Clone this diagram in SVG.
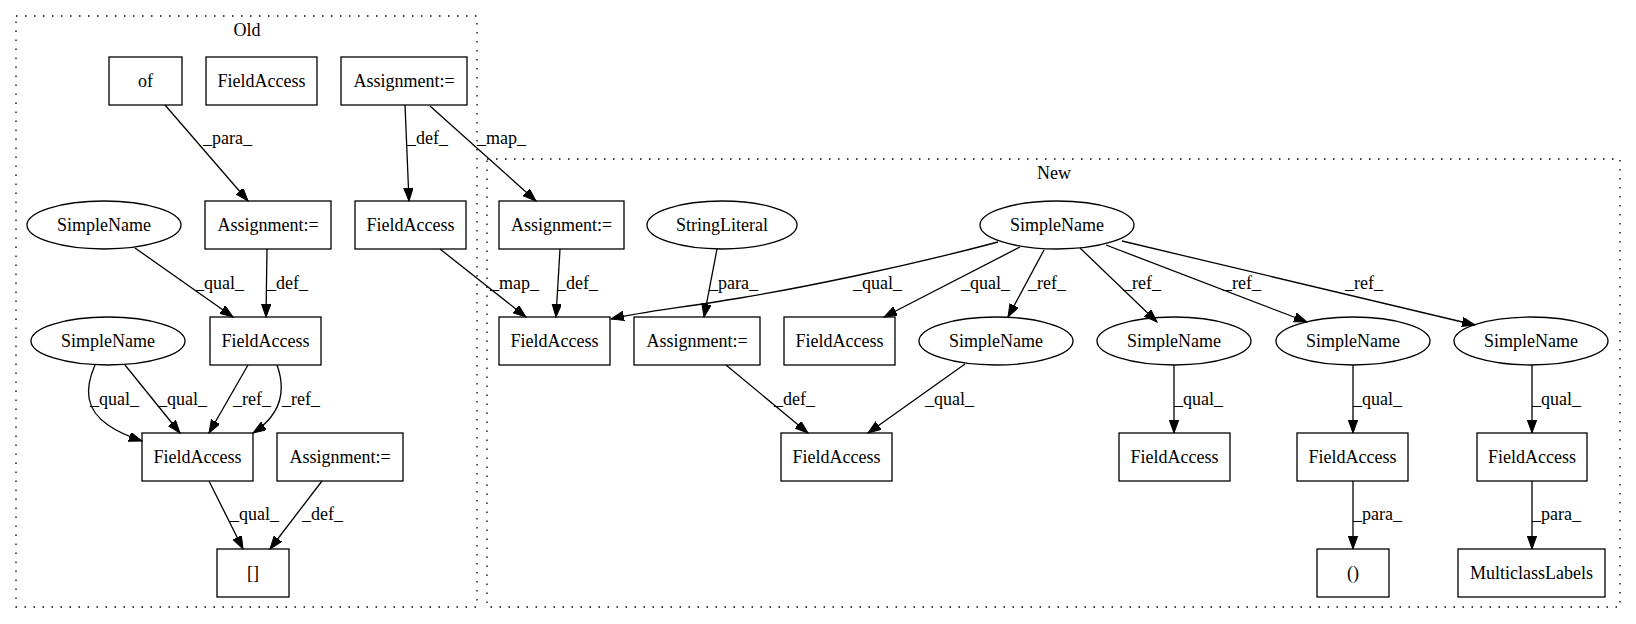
<svg xmlns="http://www.w3.org/2000/svg" width="1636" height="624" viewBox="0 0 1636 624" font-family="'Liberation Serif', 'Times New Roman', serif" font-size="18">
<style>
  .bg { fill: #ffffff; }
  .cluster { fill: none; stroke: #000; stroke-width: 1.3; stroke-dasharray: 1.5,7.5; }
  .node rect, .node ellipse { fill: none; stroke: #000; stroke-width: 1.3; }
  text { font-family: 'Liberation Serif', 'Times New Roman', serif; font-size: 18px; fill: #000; }
  .nt { text-anchor: middle; }
  .edge path { fill: none; stroke: #000; stroke-width: 1.3; marker-end: url(#arrow); }
</style>
<defs>
  <marker id="arrow" markerUnits="userSpaceOnUse" markerWidth="14" markerHeight="10" refX="13" refY="4.7" orient="auto">
    <path d="M0,0 L13,4.7 L0,9.4 Z" fill="#000" stroke="#000" stroke-width="1"/>
  </marker>
</defs>
<rect class="bg" x="0" y="0" width="1636" height="624"/>

<g id="cluster_old">
  <rect class="cluster" x="16" y="16" width="461" height="591"/>
  <text class="nt" x="247" y="36">Old</text>
</g>
<g id="cluster_new">
  <rect class="cluster" x="487" y="159" width="1133" height="448"/>
  <text class="nt" x="1054" y="179">New</text>
</g>

<g id="edges">
  <g class="edge"><path d="M165,105 L248,201"/><text x="203" y="144">_para_</text></g>
  <g class="edge"><path d="M405,105 L409,201"/><text x="407" y="144">_def_</text></g>
  <g class="edge"><path d="M430,106 L536,201"/><text x="477" y="144">_map_</text></g>
  <g class="edge"><path d="M135,248 L233,317"/><text x="195" y="289">_qual_</text></g>
  <g class="edge"><path d="M267,249 L266,317"/><text x="267" y="289">_def_</text></g>
  <g class="edge"><path d="M440,249 L526,317"/><text x="490" y="289">_map_</text></g>
  <g class="edge"><path d="M95,365 C84,390 86,410 108,425 C118,432 130,437 142,441"/><text x="90" y="405">_qual_</text></g>
  <g class="edge"><path d="M125,365 L180,433"/><text x="158" y="405">_qual_</text></g>
  <g class="edge"><path d="M248,365 L209,433"/><text x="233" y="405">_ref_</text></g>
  <g class="edge"><path d="M277,365 C286,390 282,414 253,433"/><text x="282" y="405">_ref_</text></g>
  <g class="edge"><path d="M209,481 L243,549"/><text x="230" y="520">_qual_</text></g>
  <g class="edge"><path d="M322,481 L270,549"/><text x="302" y="520">_def_</text></g>

  <g class="edge"><path d="M560,249 L556,317"/><text x="557" y="289">_def_</text></g>
  <g class="edge"><path d="M717,249 L704,317"/><text x="709" y="289">_para_</text></g>
  <g class="edge"><path d="M998,242 C900,268 800,288 740,298 C680,308 640,312 611,319"/><text x="853" y="289">_qual_</text></g>
  <g class="edge"><path d="M1020,247 L884,317"/><text x="961" y="289">_qual_</text></g>
  <g class="edge"><path d="M1044,250 L1008,317"/><text x="1028" y="289">_ref_</text></g>
  <g class="edge"><path d="M1080,248 L1157,322"/><text x="1123" y="289">_ref_</text></g>
  <g class="edge"><path d="M1106,245 L1307,322"/><text x="1223" y="289">_ref_</text></g>
  <g class="edge"><path d="M1122,241 L1475,325"/><text x="1345" y="289">_ref_</text></g>
  <g class="edge"><path d="M965,364 L868,433"/><text x="925" y="405">_qual_</text></g>
  <g class="edge"><path d="M726,365 L808,433"/><text x="774" y="405">_def_</text></g>
  <g class="edge"><path d="M1174,365 L1174,433"/><text x="1174" y="405">_qual_</text></g>
  <g class="edge"><path d="M1353,365 L1353,433"/><text x="1353" y="405">_qual_</text></g>
  <g class="edge"><path d="M1532,365 L1532,433"/><text x="1532" y="405">_qual_</text></g>
  <g class="edge"><path d="M1353,481 L1353,549"/><text x="1353" y="520">_para_</text></g>
  <g class="edge"><path d="M1532,481 L1532,549"/><text x="1532" y="520">_para_</text></g>
</g>

<g id="old_of" class="node"><rect x="109" y="57" width="73" height="48"/><text class="nt" x="145.5" y="87">of</text></g>
<g id="old_fa_top" class="node"><rect x="206" y="57" width="111" height="48"/><text class="nt" x="261.5" y="87">FieldAccess</text></g>
<g id="old_asg_top" class="node"><rect x="341" y="57" width="126" height="48"/><text class="nt" x="404" y="87">Assignment:=</text></g>
<g id="old_sn1" class="node"><ellipse cx="104" cy="225" rx="77" ry="24"/><text class="nt" x="104" y="231">SimpleName</text></g>
<g id="old_asg_mid" class="node"><rect x="205" y="201" width="126" height="48"/><text class="nt" x="268" y="231">Assignment:=</text></g>
<g id="old_fa_right" class="node"><rect x="355" y="201" width="111" height="48"/><text class="nt" x="410.5" y="231">FieldAccess</text></g>
<g id="old_fa_center" class="node"><rect x="210" y="317" width="111" height="48"/><text class="nt" x="265.5" y="347">FieldAccess</text></g>
<g id="old_sn2" class="node"><ellipse cx="108" cy="341" rx="77" ry="24"/><text class="nt" x="108" y="347">SimpleName</text></g>
<g id="old_fa_lower" class="node"><rect x="142" y="433" width="111" height="48"/><text class="nt" x="197.5" y="463">FieldAccess</text></g>
<g id="old_asg_lower" class="node"><rect x="277" y="433" width="126" height="48"/><text class="nt" x="340" y="463">Assignment:=</text></g>
<g id="old_index" class="node"><rect x="217" y="549" width="72" height="48"/><text class="nt" x="253" y="579">[]</text></g>

<g id="new_asg" class="node"><rect x="499" y="201" width="125" height="48"/><text class="nt" x="561.5" y="231">Assignment:=</text></g>
<g id="new_strlit" class="node"><ellipse cx="722" cy="225" rx="75" ry="24"/><text class="nt" x="722" y="231">StringLiteral</text></g>
<g id="new_sn_top" class="node"><ellipse cx="1057" cy="225" rx="77" ry="24"/><text class="nt" x="1057" y="231">SimpleName</text></g>
<g id="new_fa_left" class="node"><rect x="499" y="317" width="111" height="48"/><text class="nt" x="554.5" y="347">FieldAccess</text></g>
<g id="new_asg_mid" class="node"><rect x="634" y="317" width="126" height="48"/><text class="nt" x="697" y="347">Assignment:=</text></g>
<g id="new_fa_mid" class="node"><rect x="784" y="317" width="111" height="48"/><text class="nt" x="839.5" y="347">FieldAccess</text></g>
<g id="new_sn1" class="node"><ellipse cx="996" cy="341" rx="77" ry="24"/><text class="nt" x="996" y="347">SimpleName</text></g>
<g id="new_sn2" class="node"><ellipse cx="1174" cy="341" rx="77" ry="24"/><text class="nt" x="1174" y="347">SimpleName</text></g>
<g id="new_sn3" class="node"><ellipse cx="1353" cy="341" rx="77" ry="24"/><text class="nt" x="1353" y="347">SimpleName</text></g>
<g id="new_sn4" class="node"><ellipse cx="1531" cy="341" rx="77" ry="24"/><text class="nt" x="1531" y="347">SimpleName</text></g>
<g id="new_fa_b1" class="node"><rect x="781" y="433" width="111" height="48"/><text class="nt" x="836.5" y="463">FieldAccess</text></g>
<g id="new_fa_b2" class="node"><rect x="1119" y="433" width="111" height="48"/><text class="nt" x="1174.5" y="463">FieldAccess</text></g>
<g id="new_fa_b3" class="node"><rect x="1297" y="433" width="111" height="48"/><text class="nt" x="1352.5" y="463">FieldAccess</text></g>
<g id="new_fa_b4" class="node"><rect x="1477" y="433" width="110" height="48"/><text class="nt" x="1532" y="463">FieldAccess</text></g>
<g id="new_call" class="node"><rect x="1317" y="549" width="72" height="48"/><text class="nt" x="1353" y="579">()</text></g>
<g id="new_mcl" class="node"><rect x="1458" y="549" width="147" height="48"/><text class="nt" x="1531.5" y="579">MulticlassLabels</text></g>
</svg>
